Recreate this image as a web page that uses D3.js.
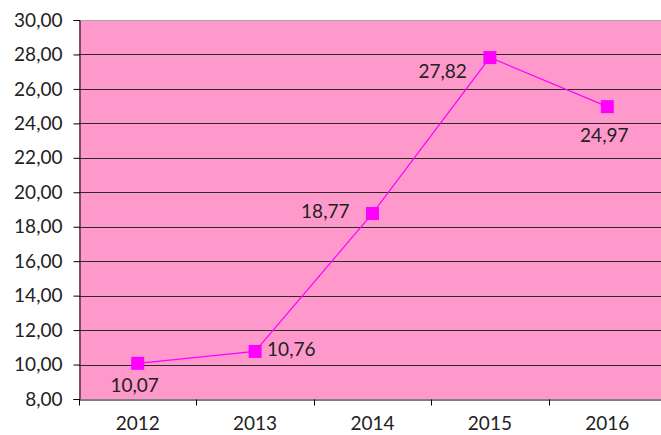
<!DOCTYPE html>
<html>
<head>
<meta charset="utf-8">
<script src="https://d3js.org/d3.v7.min.js"></script>
<style>
  body { margin: 0; background: #fff; }
  text { font-family: Lato, "Open Sans", sans-serif; fill: #222; }
</style>
</head>
<body>
<div id="chart"></div>
<script>
var years = ["2012", "2013", "2014", "2015", "2016"];
var values = [10.07, 10.76, 18.77, 27.82, 24.97];
var labelPos = ["below", "right", "left", "left", "below"];
var yTicks = [8, 10, 12, 14, 16, 18, 20, 22, 24, 26, 28, 30];

var W = 661, H = 435;
var margin = { top: 20, left: 79 };
var plotW = 587, plotH = 379;
var fs = "19px";

var fmt = function(d){ return d3.format(".2f")(d).replace(".", ","); };

var svg = d3.select("#chart").append("svg")
    .attr("width", W).attr("height", H);

var g = svg.append("g")
    .attr("transform", "translate(" + margin.left + "," + margin.top + ")");

var x = d3.scaleBand().domain(years).range([0, plotW]);
var y = d3.scaleLinear().domain([8, 30]).range([plotH, 0]);

// pink background
g.append("rect")
    .attr("width", plotW).attr("height", plotH)
    .style("fill", "#ff99cc");

// gridlines
g.selectAll(".grid").data(yTicks.slice(1, -1)).enter()
    .append("line")
    .attr("x1", 0).attr("x2", plotW)
    .attr("y1", function(d){ return Math.round(y(d)) + 0.5; })
    .attr("y2", function(d){ return Math.round(y(d)) + 0.5; })
    .style("stroke", "#2a2a2a").style("stroke-width", 1);

// top border
g.append("line")
    .attr("x1", 0).attr("x2", plotW).attr("y1", 0.5).attr("y2", 0.5)
    .style("stroke", "#a6a6a6");

// y axis
var yAxis = g.append("g")
    .attr("transform", "translate(0.5,0)")
    .call(d3.axisLeft(y).tickValues(yTicks).tickSize(6).tickPadding(11).tickFormat(fmt));
yAxis.selectAll("text").style("font-size", fs).style("fill", "#222");
yAxis.selectAll("line, path").style("stroke", "#000");

// x axis
var xAxis = g.append("g")
    .attr("transform", "translate(0," + (plotH + 0.5) + ")")
    .call(d3.axisBottom(x).tickSize(0).tickPadding(17));
xAxis.selectAll("text").style("font-size", fs).style("fill", "#222");
xAxis.select(".domain").style("stroke", "#000");
// tick marks at band boundaries
xAxis.selectAll(".bound").data(years.slice(1)).enter()
    .append("line")
    .attr("x1", function(d){ return Math.round(x(d)) + 0.5; })
    .attr("x2", function(d){ return Math.round(x(d)) + 0.5; })
    .attr("y1", 0).attr("y2", 6)
    .style("stroke", "#000");
xAxis.append("line")
    .attr("x1", 0.5).attr("x2", 0.5).attr("y1", 0).attr("y2", 6)
    .style("stroke", "#000");

// line
var cx = function(i){ return x(years[i]) + x.bandwidth() / 2; };
var line = d3.line()
    .x(function(d, i){ return cx(i); })
    .y(function(d){ return y(d); });

g.append("path")
    .datum(values)
    .attr("d", line)
    .style("fill", "none")
    .style("stroke", "#ff00ff")
    .style("stroke-width", 1.2);

// markers
g.selectAll(".mk").data(values).enter()
    .append("rect")
    .attr("x", function(d, i){ return cx(i) - 6.5; })
    .attr("y", function(d){ return y(d) - 6.5; })
    .attr("width", 13).attr("height", 13)
    .style("fill", "#ff00ff");

// data labels
g.selectAll(".lbl").data(values).enter()
    .append("text")
    .attr("x", function(d, i){
        if (labelPos[i] == "right") return cx(i) + 12;
        if (labelPos[i] == "left") return cx(i) - 23;
        return cx(i) - 3;
    })
    .attr("y", function(d, i){
        if (labelPos[i] == "below") return y(d) + (i == 0 ? 29 : 35);
        if (i == 3) return y(d) + 20;
        return y(d) + 5;
    })
    .attr("text-anchor", function(d, i){
        if (labelPos[i] == "right") return "start";
        if (labelPos[i] == "left") return "end";
        return "middle";
    })
    .style("font-size", fs)
    .text(fmt);
</script>
</body>
</html>
